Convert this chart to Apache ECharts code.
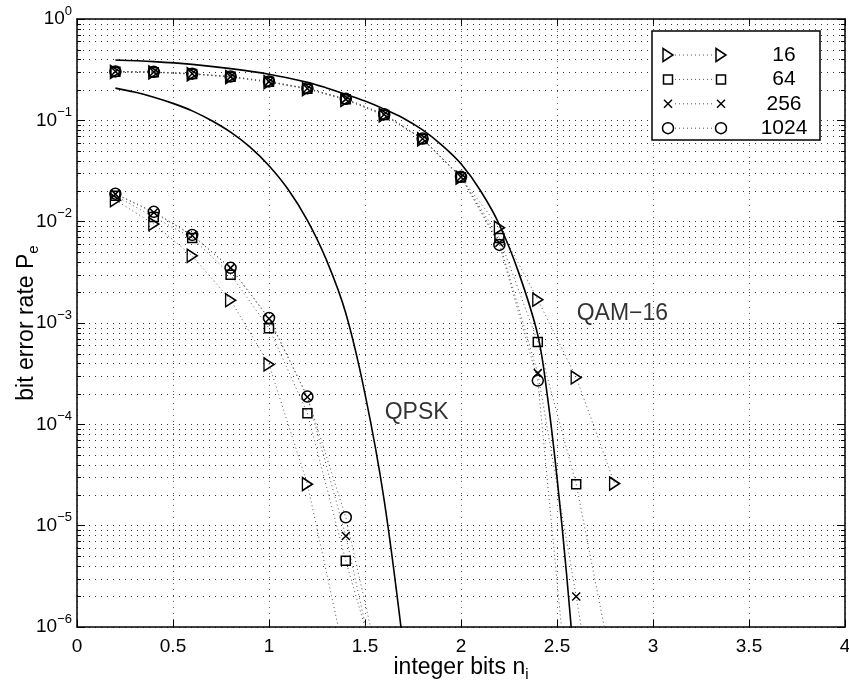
<!DOCTYPE html>
<html>
<head>
<meta charset="utf-8">
<title>Bit error rate vs integer bits</title>
<script src="https://cdn.jsdelivr.net/npm/echarts@6/dist/echarts.min.js"></script>
<style>
  html, body { margin: 0; padding: 0; background: #fff; }
  #chart { width: 849px; height: 686px; }
</style>
</head>
<body>
<div id="chart"></div>
<script>
const FONT = "'Liberation Sans', Arial, Helvetica, sans-serif";

// ---- simulated bit error rates (markers joined by dotted lines) ----
// QAM-16 simulations, integer bits 0.2 ... 2.8
const xQam = [0.2, 0.4, 0.6, 0.8, 1.0, 1.2, 1.4, 1.6, 1.8, 2.0, 2.2, 2.4, 2.6, 2.8];
const qam16   = [0.300, 0.297, 0.285, 0.267, 0.238, 0.203, 0.159, 0.112, 0.0650, 0.0272, 0.0087, 0.0017, 2.9e-4, 2.6e-5];
const qam64   = [0.302, 0.299, 0.287, 0.269, 0.240, 0.205, 0.161, 0.113, 0.0655, 0.0275, 0.0069, 6.5e-4, 2.57e-5, 3e-7];
const qam256  = [0.303, 0.300, 0.288, 0.270, 0.241, 0.206, 0.162, 0.114, 0.0658, 0.0276, 0.0062, 3.2e-4, 2.0e-6, 1e-8];
const qam1024 = [0.304, 0.301, 0.289, 0.271, 0.242, 0.207, 0.163, 0.115, 0.0660, 0.0277, 0.0059, 2.7e-4, 3e-8];

// QPSK simulations, integer bits 0.2 ... 1.6
const xQpsk = [0.2, 0.4, 0.6, 0.8, 1.0, 1.2, 1.4, 1.6];
const qpsk16   = [0.0163, 0.0095, 0.0046, 0.00168, 3.9e-4, 2.57e-5, 4.5e-7];
const qpsk64   = [0.0180, 0.0111, 0.0069, 0.0030, 8.9e-4, 1.29e-4, 4.5e-6, 2.2e-7];
const qpsk256  = [0.0187, 0.0123, 0.0073, 0.0035, 1.1e-3, 1.86e-4, 7.9e-6, 1.5e-7];
const qpsk1024 = [0.0189, 0.0125, 0.0074, 0.0035, 1.12e-3, 1.88e-4, 1.21e-5, 2.5e-7];

// ---- theoretical curves (solid) ----
const xQpskTheory = [0.2, 0.3, 0.4, 0.5, 0.6, 0.7, 0.8, 0.9, 1.0, 1.1, 1.2, 1.3, 1.4, 1.5, 1.6, 1.7];
const qpskTheory  = [0.208, 0.190, 0.169, 0.147, 0.124, 0.0995, 0.0764, 0.0547, 0.0357, 0.0208, 0.0103, 0.00415, 0.00125, 2.0e-4, 1.78e-5, 6.3e-7];
const xQamTheory  = [0.2, 0.4, 0.6, 0.8, 1.0, 1.2, 1.3, 1.4, 1.5, 1.6, 1.7, 1.8, 1.9, 2.0, 2.1, 2.2, 2.3, 2.4, 2.45, 2.5, 2.55, 2.6];
const qamTheory   = [0.394, 0.380, 0.357, 0.324, 0.285, 0.237, 0.209, 0.181, 0.155, 0.129, 0.105, 0.0804, 0.0569, 0.0372, 0.0204, 0.00933, 0.00316, 7.6e-4, 1.9e-4, 3.0e-5, 3.3e-6, 2.5e-7];

// legend entries and marker kinds
const legendNames = ['16', '64', '256', '1024'];
const markerKinds = ['tri', 'sq', 'x', 'circ'];

// axis ticks
const xTicks = [0, 0.5, 1, 1.5, 2, 2.5, 3, 3.5, 4];
const decadeExponents = [-6, -5, -4, -3, -2, -1];
const minorMultipliers = [2, 3, 4, 5, 6, 7, 8, 9];

// curve annotations
const notes = [
  { text: 'QPSK',   x: 1.6, y: 1.3e-4 },
  { text: 'QAM\u221216', x: 2.6, y: 1.25e-3 }
];

// ---- styling ----
const SYMBOLS = {
  tri:  { symbol: 'path://M0,0L10,5L0,10Z', size: [10, 13] },
  sq:   { symbol: 'rect', size: 9 },
  x:    { symbol: 'path://M0,0L10,10M10,0L0,10', size: 8 },
  circ: { symbol: 'circle', size: 11 }
};

function zip(xs, ys) { return ys.map((v, i) => [xs[i], v]); }

function simSeries(name, kind, xs, ys) {
  const s = SYMBOLS[kind];
  return {
    name: name,
    type: 'line',
    data: zip(xs, ys),
    symbol: s.symbol,
    symbolSize: s.size,
    showAllSymbol: true,
    clip: true,
    z: 3,
    itemStyle: { color: 'rgba(255,255,255,0)', borderColor: '#000', borderWidth: 1.5 },
    lineStyle: { color: '#555', width: 1, type: [1, 3] },
    emphasis: { disabled: true },
    animation: false
  };
}

const series = [];
const qamSets = [qam16, qam64, qam256, qam1024];
const qpskSets = [qpsk16, qpsk64, qpsk256, qpsk1024];
legendNames.forEach((n, i) => {
  series.push(simSeries(n, markerKinds[i], xQam, qamSets[i]));
  series.push(simSeries(n, markerKinds[i], xQpsk, qpskSets[i]));
});

function theorySeries(xs, ys) {
  return {
    type: 'line',
    data: zip(xs, ys),
    symbol: 'none',
    smooth: 0.35,
    clip: true,
    z: 4,
    lineStyle: { color: '#000', width: 1.6 },
    emphasis: { disabled: true },
    animation: false
  };
}
series.push(theorySeries(xQpskTheory, qpskTheory));
series.push(theorySeries(xQamTheory, qamTheory));

// minor log gridlines and ticks (2..9 in every decade)
const minorValues = [];
decadeExponents.forEach(e => minorMultipliers.forEach(m => minorValues.push([0, m * Math.pow(10, e)])));
series.push({
  type: 'custom',
  silent: true,
  z: 1,
  data: minorValues,
  animation: false,
  renderItem: function (params, api) {
    const y = api.value(1);
    const a = api.coord([0, y]);
    const b = api.coord([4, y]);
    const yy = Math.round(a[1]) + 0.5;
    return {
      type: 'group',
      children: [
        { type: 'line', shape: { x1: a[0], y1: yy, x2: b[0], y2: yy }, style: { stroke: '#333', lineWidth: 1, lineDash: [1, 5] } },
        { type: 'line', shape: { x1: a[0], y1: yy, x2: a[0] + 4, y2: yy }, style: { stroke: '#000', lineWidth: 1 } },
        { type: 'line', shape: { x1: b[0] - 4, y1: yy, x2: b[0], y2: yy }, style: { stroke: '#000', lineWidth: 1 } }
      ]
    };
  }
});

// curve annotations
series.push({
  type: 'scatter',
  silent: true,
  z: 5,
  symbolSize: 1,
  itemStyle: { color: 'rgba(0,0,0,0)' },
  data: notes.map(n => ({ value: [n.x, n.y], name: n.text })),
  label: {
    show: true, position: 'right', distance: 0,
    formatter: p => p.name,
    fontFamily: FONT, fontSize: 23, color: '#000'
  },
  animation: false
});

const axisLine = { show: true, onZero: false, lineStyle: { color: '#000', width: 1.5 } };

const option = {
  backgroundColor: '#fff',
  animation: false,
  grid: { left: 77, top: 19, width: 768, height: 608, containLabel: false, outerBoundsMode: 'none' },
  xAxis: [
    {
      type: 'value', min: xTicks[0], max: xTicks[xTicks.length - 1], interval: 0.5,
      position: 'bottom',
      axisLine: axisLine,
      axisTick: { show: true, inside: true, length: 7, lineStyle: { color: '#000', width: 1 } },
      axisLabel: { color: '#000', fontFamily: FONT, fontSize: 19, margin: 10, formatter: v => String(v) },
      splitLine: { show: true, lineStyle: { color: '#666', width: 1, type: [1, 5] } },
      name: 'integer bits n{sub|i}', nameLocation: 'middle', nameGap: 26, nameMoveOverlap: false,
      nameTextStyle: {
        color: '#000', fontFamily: FONT, fontSize: 23,
        rich: { sub: { fontFamily: FONT, fontSize: 15, color: '#000', padding: [14, 0, 0, 0] } }
      }
    },
    {
      type: 'value', min: xTicks[0], max: xTicks[xTicks.length - 1], interval: 0.5,
      position: 'top',
      axisLine: axisLine,
      axisTick: { show: true, inside: true, length: 7, lineStyle: { color: '#000', width: 1 } },
      axisLabel: { show: false },
      splitLine: { show: false }
    }
  ],
  yAxis: [
    {
      type: 'log', logBase: 10, min: 1e-6, max: 1,
      position: 'left',
      axisLine: axisLine,
      axisTick: { show: true, inside: true, length: 8, lineStyle: { color: '#000', width: 1 } },
      splitLine: { show: true, lineStyle: { color: '#333', width: 1, type: [1, 5] } },
      axisLabel: {
        color: '#000', fontFamily: FONT, margin: 5,
        formatter: v => {
          const e = Math.round(Math.log10(v));
          return '{b|10}{s|' + (e === 0 ? '0' : '\u2212' + (-e)) + '}';
        },
        rich: {
          b: { fontFamily: FONT, fontSize: 19, color: '#000' },
          s: { fontFamily: FONT, fontSize: 13, color: '#000', padding: [0, 0, 16, 0] }
        }
      },
      name: 'bit error rate P{sub|e}', nameLocation: 'middle', nameGap: 36, nameMoveOverlap: false,
      nameTextStyle: {
        color: '#000', fontFamily: FONT, fontSize: 23,
        rich: { sub: { fontFamily: FONT, fontSize: 15, color: '#000', padding: [14, 0, 0, 0] } }
      }
    },
    {
      type: 'log', logBase: 10, min: 1e-6, max: 1,
      position: 'right',
      axisLine: axisLine,
      axisTick: { show: true, inside: true, length: 8, lineStyle: { color: '#000', width: 1 } },
      splitLine: { show: false },
      axisLabel: { show: false }
    }
  ],
  series: series
};

const chart = echarts.init(document.getElementById('chart'), null, { renderer: 'canvas' });
chart.setOption(option);

// ---- legend box: dotted line with a marker at each end, label on the right ----
function markerGraphics(kind, cx, cy, z) {
  const st = { fill: 'none', stroke: '#000', lineWidth: 1.5 };
  if (kind === 'tri') return [{ type: 'polygon', z: z, shape: { points: [[cx - 5, cy - 6.5], [cx + 5, cy], [cx - 5, cy + 6.5]] }, style: st }];
  if (kind === 'sq') return [{ type: 'rect', z: z, shape: { x: cx - 4.5, y: cy - 4.5, width: 9, height: 9 }, style: st }];
  if (kind === 'x') return [
    { type: 'line', z: z, shape: { x1: cx - 4, y1: cy - 4, x2: cx + 4, y2: cy + 4 }, style: st },
    { type: 'line', z: z, shape: { x1: cx + 4, y1: cy - 4, x2: cx - 4, y2: cy + 4 }, style: st }
  ];
  return [{ type: 'circle', z: z, shape: { cx: cx, cy: cy, r: 5.5 }, style: st }];
}

const LG = { x: 652, y: 31, w: 168, h: 109, rowTop: 55, rowGap: 24.4, m1: 668, m2: 721, textCenter: 784 };
const legendEls = [
  { type: 'rect', shape: { x: LG.x, y: LG.y, width: LG.w, height: LG.h }, style: { fill: '#fff', stroke: '#000', lineWidth: 1.5 }, z: 10 }
];
legendNames.forEach((n, i) => {
  const cy = LG.rowTop + i * LG.rowGap;
  legendEls.push({ type: 'line', z: 11, shape: { x1: LG.m1 + 7, y1: cy, x2: LG.m2 - 7, y2: cy }, style: { stroke: '#555', lineWidth: 1, lineDash: [1, 3] } });
  legendEls.push(...markerGraphics(markerKinds[i], LG.m1, cy, 11));
  legendEls.push(...markerGraphics(markerKinds[i], LG.m2, cy, 11));
  legendEls.push({ type: 'text', z: 11, style: { text: n, x: LG.textCenter, y: cy, align: 'center', verticalAlign: 'middle', font: '21px ' + FONT, fill: '#000' } });
});
chart.setOption({ graphic: { elements: legendEls } });
</script>
</body>
</html>
